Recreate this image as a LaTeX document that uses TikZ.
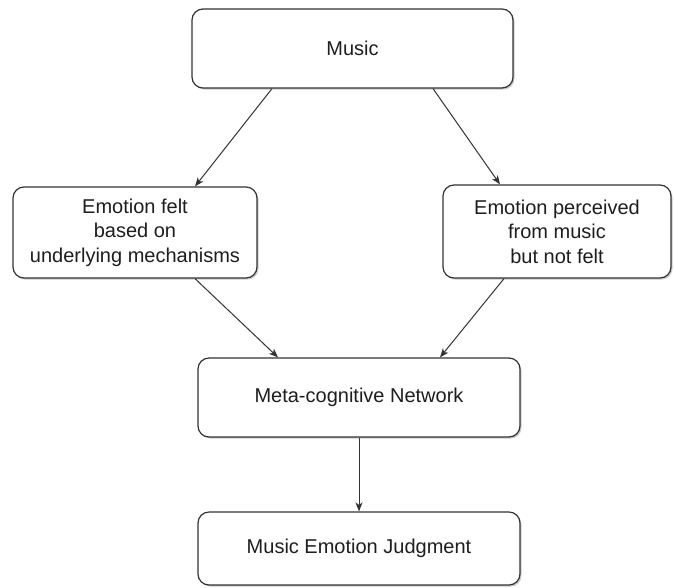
\documentclass[tikz,border=0pt]{standalone}
\usepackage{fontspec}
\setmainfont{Liberation Sans}
\usetikzlibrary{arrows.meta,shadows}
\definecolor{edgegray}{HTML}{333333}
\definecolor{textgray}{HTML}{1E1E1E}
\begin{document}
\begin{tikzpicture}[x=1pt,y=-1pt,
  box/.style={draw=edgegray, line width=1.2pt, rounded corners=11pt, fill=white,
    align=center, inner sep=0pt, text=textgray,
    font=\fontsize{20}{24.5}\selectfont,
    drop shadow={shadow xshift=1.5pt, shadow yshift=-1.6pt, opacity=0.35, fill=black!60}},
  link/.style={draw=edgegray, line width=1pt,
    -{Stealth[length=9pt,width=7pt,inset=2.5pt]}}]
  \useasboundingbox (0,0) rectangle (674,587);
  \node[box, minimum width=321pt, minimum height=79pt] (music) at (352.5,48.5) {Music};
  \node[box, minimum width=244pt, minimum height=91pt] (felt) at (135,232.5)
    {Emotion felt\\based on\\underlying mechanisms};
  \node[box, minimum width=228pt, minimum height=93pt] (perc) at (557,231.5)
    {Emotion perceived\\from music\\but not felt};
  \node[box, minimum width=322pt, minimum height=79pt] (meta) at (359,397.5)
    {Meta-cognitive Network};
  \node[box, minimum width=322pt, minimum height=73pt] (judg) at (359,548.5)
    {Music Emotion Judgment};

  \draw[link] ([xshift=-80.5pt]music.south) -- ([xshift=60pt]felt.north);
  \draw[link] ([xshift=80.5pt]music.south) -- ([xshift=-57pt]perc.north);
  \draw[link] ([xshift=60pt]felt.south) -- ([xshift=-81pt]meta.north);
  \draw[link] ([xshift=-53pt]perc.south) -- ([xshift=81pt]meta.north);
  \draw[link] (meta.south) -- (judg.north);
\end{tikzpicture}
\end{document}
